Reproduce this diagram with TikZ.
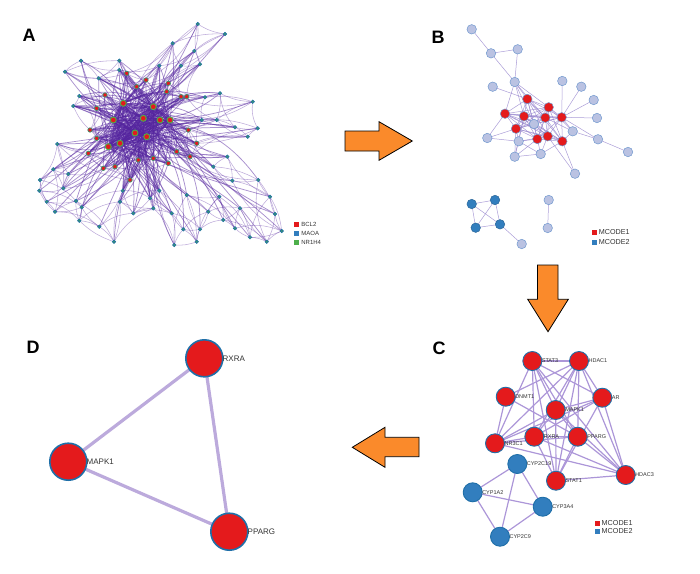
\documentclass[tikz,border=0pt]{standalone}
\usepackage{fontspec}
\setmainfont{Liberation Sans}
\usetikzlibrary{positioning, arrows.meta, calc}
\definecolor{apurple}{RGB}{84, 36, 158}
\definecolor{bline}{RGB}{150, 132, 205}
\definecolor{cline}{RGB}{172, 150, 216}
\definecolor{dline}{RGB}{188, 170, 220}
\definecolor{nred}{RGB}{228, 26, 28}
\definecolor{nborder}{RGB}{31, 111, 168}
\definecolor{blight}{RGB}{186, 194, 226}
\definecolor{bborder}{RGB}{112, 152, 206}
\definecolor{mblue}{RGB}{50, 126, 190}
\definecolor{agreen}{RGB}{77, 175, 74}
\definecolor{orng}{RGB}{250, 138, 43}
\tikzset{
  panel/.style={font=\fontsize{18}{18}\selectfont\bfseries, inner sep=0pt},
  hair/.style={draw=apurple, line width=0.55pt, opacity=0.38},
  hair hub/.style={draw=apurple, line width=0.75pt, opacity=0.5},
  ahub/.style={circle, fill=nred, draw=agreen, line width=0.9pt,
    inner sep=0pt, minimum size=6pt},
  ahub sm/.style={circle, fill=nred, draw=agreen!60!nborder, line width=0.7pt,
    inner sep=0pt, minimum size=4.4pt},
  adot/.style={circle, fill=agreen!55!nborder, draw=nborder, line width=0.5pt,
    inner sep=0pt, minimum size=3.6pt},
  bnode/.style={circle, fill=blight, draw=bborder, line width=0.5pt,
    inner sep=0pt, minimum size=9.5pt},
  bred/.style={bnode, fill=nred},
  bblue/.style={bnode, fill=mblue, draw=mblue!80!black},
  bedge/.style={draw=bline, line width=0.5pt, opacity=0.8},
  cnode/.style={circle, fill=nred, draw=nborder, line width=0.9pt,
    inner sep=0pt, minimum size=19pt},
  cblue/.style={cnode, fill=mblue},
  cedge/.style={draw=cline, line width=1.2pt},
  dnode/.style={circle, fill=nred, draw=nborder, line width=1.6pt,
    inner sep=0pt, minimum size=37pt},
  dedge/.style={draw=dline, line width=3.2pt},
  clabel/.style={font=\fontsize{5.5}{6}\selectfont, text=black!80, inner sep=0.4pt},
  dlabel/.style={font=\fontsize{8}{9}\selectfont, text=black!80, inner sep=0.4pt},
  legsq/.style={rectangle, inner sep=0pt, minimum size=5pt},
  legtxt/.style={font=\fontsize{7.2}{8}\selectfont, text=black!80, inner sep=0pt},
  legtxt sm/.style={font=\fontsize{6}{7}\selectfont, text=black!80, inner sep=0pt},
  bigarrow/.style={fill=orng, draw=black, line width=0.8pt, line join=miter},
}
\begin{document}
\begin{tikzpicture}[x=1pt, y=-1pt]
\useasboundingbox (0,0) rectangle (700,573);

\node[panel] (lblA) at (29,35) {A};
\node[panel] (lblB) at (438,37) {B};
\node[panel] (lblC) at (439,348) {C};
\node[panel] (lblD) at (33,347) {D};

% ---------------- A: full network
\def\ahubs{135/133, 146.7/136.7, 120/143.3, 113.3/120, 143.3/118.3,
  153.3/106.7, 123.3/103.3, 160/120, 170/120, 108.3/146.7}
\def\anodes{81/60.7, 65/71.7, 98.7/78.3, 119.3/60.7, 119.3/70, 126.7/73.3,
  146/80, 136.7/86.7, 159.3/65.7, 172.7/43.3, 197.7/24, 225/34, 194.3/51,
  181/65.7, 200/64.3, 168.3/83.3, 166.7/91.7, 181/96.7, 186.7/96.7,
  205/97.3, 220/93.3, 252.7/101.7, 216.7/120, 201.7/120, 235/127.3,
  257.7/128.3, 247.7/136.7, 196.7/143.3, 188.3/130, 190/156.7,
  176.7/151.7, 227.3/156.7, 213.3/166.7, 232.3/180.7, 258.3/180,
  270/196.7, 275/214, 281.7/231, 266.7/241.7, 250/237.3, 240/208.3,
  235/228.3, 223.3/220, 219.3/196.7, 208.3/211.7, 186.7/195, 200/229.3,
  196.7/241.7, 183.3/229.3, 174.3/245, 171.7/213.3, 159.3/190.7,
  150/198.3, 153.3/208.3, 133.3/213.3, 120/201.7, 122.7/190.7,
  114/241.7, 99.3/226.7, 79.3/220.7, 81.7/207.3, 76/201, 55/211.7,
  46.7/201.7, 39.3/190.7, 40/180, 53.3/169.3, 68.3/174, 63.3/188.3,
  57.3/144, 88.3/153.3, 103.3/168.3, 115/166.7, 130/180, 138.3/160,
  153.3/158.3, 168.3/163.3, 96.7/138.3, 90/130, 96.7/108.3, 73.3/106,
  79.3/96, 105/95}

\foreach \x/\y [count=\i] in \ahubs {\coordinate (ah\i) at (\x,\y);}
\foreach \x/\y [count=\i] in \anodes {\coordinate (an\i) at (\x,\y);}

\foreach \i in {1,...,9}{
  \pgfmathtruncatemacro\s{\i+1}
  \foreach \j in {\s,...,10}{
    \draw[hair hub] (ah\i) -- (ah\j);
    \draw[hair hub] (ah\i) to[bend left=20] (ah\j);
  }
}
\pgfmathsetseed{12}
\foreach \x/\y [count=\i] in \anodes {
  \pgfmathtruncatemacro\n{veclen(\x-137,\y-130)<70 ? 8 : (veclen(\x-137,\y-130)<100 ? 3 : 1)}
  \foreach \k in {1,...,\n}{
    \pgfmathtruncatemacro\h{random(1,10)}
    \pgfmathtruncatemacro\b{random(-25,25)}
    \draw[hair hub] (an\i) to[bend left=\b] (ah\h);
  }
  \ifnum\i>1 \pgfmathtruncatemacro\p{\i-1}\draw[hair] (an\i) to[bend left=12] (an\p);\fi
  \ifnum\i>2 \pgfmathtruncatemacro\q{\i-2}\draw[hair] (an\i) to[bend right=12] (an\q);\fi
  \ifnum\i>4 \pgfmathtruncatemacro\r{\i-4}\draw[hair] (an\i) to[bend left=18] (an\r);\fi
}
\foreach \x/\y [count=\i] in \anodes {
  \pgfmathtruncatemacro\c{veclen(\x-137,\y-130)<62 ? 1 : 0}
  \ifnum\c=1 \node[ahub sm] (ad\i) at (an\i) {};
  \else \node[adot] (ad\i) at (an\i) {};\fi
}
\foreach \x/\y [count=\i] in \ahubs {\node[ahub] (ahn\i) at (ah\i) {};}

\node[legsq, fill=nred] (aleg1) at (296.5,224) {};
\node[legsq, fill=mblue] (aleg2) at (296.5,233) {};
\node[legsq, fill=agreen] (aleg3) at (296.5,242) {};
\node[legtxt sm, right=2pt of aleg1] {BCL2};
\node[legtxt sm, right=2pt of aleg2] {MAOA};
\node[legtxt sm, right=2pt of aleg3] {NR1H4};

% ---------------- B: MCODE clusters
\foreach \x/\y [count=\i] in {527.3/99, 548.7/107.3, 505/113.7, 524/116.3,
  545.3/117.7, 561.7/117.3, 516/128.7, 537.3/139, 547.7/136.3, 562.3/141.3}
  {\coordinate (br\i) at (\x,\y);}
\foreach \x/\y [count=\i] in {471.7/29.3, 491/53.3, 517.7/49.3, 514.7/82,
  492.7/86.7, 562.3/81, 581.3/86.7, 593.7/100, 597/118, 572.7/131.3,
  534/124, 487.3/138, 518.7/141.3, 598/139.3, 628/152, 514.7/156.7,
  540.7/154, 575/173.7, 521.7/244, 548.7/200, 547.7/228}
  {\coordinate (bl\i) at (\x,\y);}
\foreach \x/\y [count=\i] in {471.7/204, 495/200, 475.7/227.7, 500/224.3}
  {\coordinate (bb\i) at (\x,\y);}

\foreach \i in {1,...,9}{
  \pgfmathtruncatemacro\s{\i+1}
  \foreach \j in {\s,...,10}{\draw[bedge] (br\i) -- (br\j);}
}
\foreach \i in {1,...,10}{\draw[bedge] (bl11) -- (br\i);}
\foreach \a/\b in {bl1/bl2, bl2/bl3, bl3/bl4, bl2/bl4, bl4/br1, bl4/br4,
  bl4/br3, bl4/br2, bl4/bl11, bl4/br5, bl5/br1, bl6/br6, bl7/br6, bl8/br6,
  bl9/br6, bl14/br6, bl14/bl15, bl10/br6, bl10/br10, bl10/br5, bl10/br2,
  bl10/bl14, bl12/br3, bl12/br7, bl12/bl13, bl13/br7, bl13/br4, bl13/br8,
  bl13/br9, bl16/br7, bl16/bl13, bl16/br8, bl16/br4, bl17/br8, bl17/br9,
  bl17/br10, bl17/bl13, bl17/bl16, bl18/br10, bl18/br9, bl20/bl21,
  bb1/bb2, bb1/bb3, bb1/bb4, bb2/bb3, bb2/bb4, bb3/bb4, bb4/bl19}
  {\draw[bedge] (\a) -- (\b);}

\foreach \i in {1,...,21}{\node[bnode] (bln\i) at (bl\i) {};}
\foreach \i in {1,...,10}{\node[bred] (brn\i) at (br\i) {};}
\foreach \i in {1,...,4}{\node[bblue] (bbn\i) at (bb\i) {};}

\node[legsq, fill=nred] (bleg1) at (594.5,232.3) {};
\node[legsq, fill=mblue] (bleg2) at (594.5,242.3) {};
\node[legtxt, right=1.5pt of bleg1] {MCODE1};
\node[legtxt, right=1.5pt of bleg2] {MCODE2};

% ---------------- C: hub genes
\def\cred{stat3/532.3/361/STAT3, hdac1/579/361/HDAC1, dnmt1/505.7/396.7/DNMT1,
  ar/602.3/397.7/AR, mapk1/555.7/410/MAPK1, nr3c1/495/443.3/NR3C1,
  rxra/534.3/436.7/RXRA, pparg/577.7/436.7/PPARG, hdac3/625.7/475/HDAC3,
  stat1/556/480.7/STAT1}
\def\cblu{c2c19/517.3/464/CYP2C19, c1a2/472.7/492.3/CYP1A2,
  c3a4/542.7/506.7/CYP3A4, c2c9/500/536.7/CYP2C9}
\foreach \n/\x/\y/\t in \cred {\coordinate (\n) at (\x,\y);}
\foreach \n/\x/\y/\t in \cblu {\coordinate (\n) at (\x,\y);}

\foreach \a/\b in {stat3/hdac1, stat3/mapk1, stat3/rxra, stat3/pparg,
  stat3/stat1, stat3/hdac3, stat3/ar, stat3/nr3c1, hdac1/dnmt1, hdac1/nr3c1,
  hdac1/mapk1, hdac1/rxra, hdac1/pparg, hdac1/stat1, hdac1/hdac3, hdac1/ar,
  dnmt1/nr3c1, dnmt1/pparg, ar/nr3c1, ar/rxra, ar/mapk1, ar/hdac3, ar/stat1,
  mapk1/rxra, mapk1/pparg, mapk1/nr3c1, mapk1/stat1, mapk1/hdac3,
  nr3c1/rxra, nr3c1/pparg, nr3c1/hdac3, rxra/pparg, rxra/stat1, rxra/hdac3,
  pparg/stat1, pparg/hdac3, stat1/hdac3, c2c19/c1a2, c2c19/c3a4,
  c2c19/c2c9, c1a2/c3a4, c1a2/c2c9, c3a4/c2c9}
  {\draw[cedge] (\a) -- (\b);}

\foreach \n/\x/\y/\t in \cred
  {\node[cnode, label={[clabel, label distance=-1pt]east:\t}] (\n n) at (\n) {};}
\foreach \n/\x/\y/\t in \cblu
  {\node[cblue, label={[clabel, label distance=-1pt]east:\t}] (\n n) at (\n) {};}

\node[legsq, fill=nred] (cleg1) at (597.3,523.3) {};
\node[legsq, fill=mblue] (cleg2) at (597.3,531.3) {};
\node[legtxt, right=1.5pt of cleg1] {MCODE1};
\node[legtxt, right=1.5pt of cleg2] {MCODE2};

% ---------------- D: core targets
\coordinate (drxrap) at (204.3,358.3);
\coordinate (dmapkp) at (68.3,461.7);
\coordinate (dppargp) at (229.3,531.7);
\draw[dedge] (drxrap) -- (dmapkp);
\draw[dedge] (drxrap) -- (dppargp);
\draw[dedge] (dmapkp) -- (dppargp);
\node[dnode, label={[dlabel, label distance=-1.5pt]east:RXRA}] (drxra) at (drxrap) {};
\node[dnode, label={[dlabel, label distance=-1.5pt]east:MAPK1}] (dmapk) at (dmapkp) {};
\node[dnode, label={[dlabel, label distance=-1.5pt]east:PPARG}] (dpparg) at (dppargp) {};

% ---------------- block arrows
\draw[bigarrow] (345,131) -- (379,131) -- (379,121.7) -- (412.3,141)
  -- (379,160.3) -- (379,151) -- (345,151) -- cycle;
\draw[bigarrow] (537.5,265) -- (558,265) -- (558,299.3) -- (568.3,299.3)
  -- (548,331.7) -- (527.7,299.3) -- (537.5,299.3) -- cycle;
\draw[bigarrow] (419,437.3) -- (385,437.3) -- (385,427.3) -- (352.3,447.3)
  -- (385,467.3) -- (385,456.7) -- (419,456.7) -- cycle;
\end{tikzpicture}
\end{document}
